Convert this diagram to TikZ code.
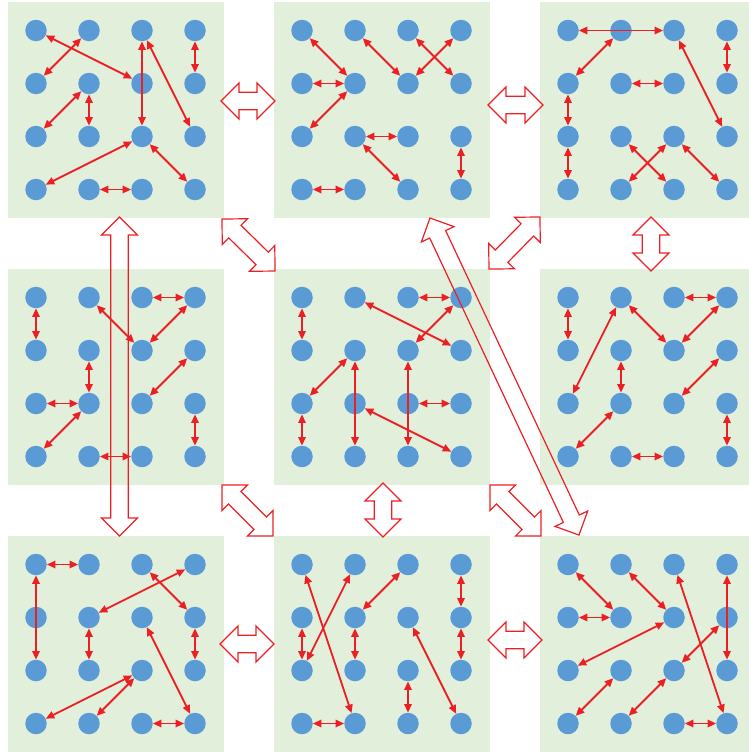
\documentclass[tikz,border=0pt]{standalone}
\usetikzlibrary{arrows.meta,calc}

\definecolor{panelgreen}{RGB}{226,239,218}
\definecolor{dotblue}{RGB}{91,155,213}
\definecolor{linkred}{RGB}{236,32,36}

% green square with a 4x4 grid of dots named <prefix><col><row>
\newcommand{\dotpanel}[3]{%
  \fill[panelgreen] (#2,#3) rectangle ++(216,216);
  \foreach \c in {1,...,4}
    \foreach \r in {1,...,4}
      \node[dot] (#1\c\r) at ({#2+28+53*(\c-1)},{#3+28.5+53*(\r-1)}) {};
}

% hollow two-way arrow between two coordinates
\newcommand{\twoway}[2]{%
  \draw[hollow] let \p1=(#1), \p2=(#2),
    \n1={atan2(\y2-\y1,\x2-\x1)}, \n2={veclen(\x2-\x1,\y2-\y1)-36} in
    (\p1) -- ++(\n1+45:25.5pt) -- ++(\n1-90:9.25pt) -- ++(\n1:\n2)
    -- ++(\n1+90:9.25pt) -- ++(\n1-45:25.5pt) -- ++(\n1-135:25.5pt)
    -- ++(\n1+90:9.25pt) -- ++(\n1+180:\n2) -- ++(\n1-90:9.25pt) -- cycle;
}

\begin{document}
\begin{tikzpicture}[
  x=1pt, y=-1pt,
  dot/.style={circle, fill=dotblue, minimum size=21.5pt, inner sep=0pt},
  link/.style={linkred, line width=1.8pt, {Triangle[length=8.5pt,width=7.5pt]}-{Triangle[length=8.5pt,width=7.5pt]}},
  hollow/.style={draw=linkred, line width=1.2pt, line join=miter}
]
\clip (0,0) rectangle (749,753);

% panels
\dotpanel{a}{8}{2}
\dotpanel{b}{274}{2}
\dotpanel{c}{540}{2}
\dotpanel{d}{8}{269}
\dotpanel{e}{274}{269}
\dotpanel{f}{540}{269}
\dotpanel{g}{8}{536}
\dotpanel{h}{274}{536}
\dotpanel{i}{540}{536}

% links inside the panels
\foreach \s/\t in {11/32, 21/12, 31/33, 31/43, 41/42, 22/13, 22/23, 33/14, 33/44, 24/34}
  \draw[link] (a\s) -- (a\t);
\foreach \s/\t in {11/22, 12/22, 22/13, 21/32, 31/42, 41/32, 23/33, 23/34, 43/44, 14/24}
  \draw[link] (b\s) -- (b\t);
\foreach \s/\t in {11/31, 21/12, 31/43, 41/42, 22/32, 12/13, 13/14, 23/34, 33/24, 33/44}
  \draw[link] (c\s) -- (c\t);
\foreach \s/\t in {11/12, 21/32, 31/41, 41/32, 42/33, 22/23, 13/23, 23/14, 43/44, 24/34}
  \draw[link] (d\s) -- (d\t);
\foreach \s/\t in {11/12, 31/41, 21/42, 41/32, 22/13, 22/24, 32/34, 33/43, 23/44, 13/14}
  \draw[link] (e\s) -- (e\t);
\foreach \s/\t in {11/12, 21/13, 21/32, 31/41, 41/32, 42/33, 22/23, 23/14, 43/44, 24/34}
  \draw[link] (f\s) -- (f\t);
\foreach \s/\t in {11/21, 11/13, 31/42, 41/22, 22/23, 32/44, 42/43, 33/14, 33/24, 34/44}
  \draw[link] (g\s) -- (g\t);
\foreach \s/\t in {11/24, 21/13, 31/22, 41/42, 42/43, 12/13, 22/23, 32/44, 33/34, 14/24}
  \draw[link] (h\s) -- (h\t);
\foreach \s/\t in {11/22, 12/22, 21/32, 32/13, 31/44, 41/43, 42/33, 33/24, 23/14, 34/44}
  \draw[link] (i\s) -- (i\t);

% moves between panels
\coordinate (ab-1) at (221,101);   \coordinate (ab-2) at (275,101);
\coordinate (bc-1) at (488,105);   \coordinate (bc-2) at (543,105);
\coordinate (ae-1) at (222,219);   \coordinate (ae-2) at (275,271);
\coordinate (ce-1) at (540,217);   \coordinate (ce-2) at (489,269);
\coordinate (cf-1) at (651,217);   \coordinate (cf-2) at (651,271);
\coordinate (ag-1) at (119.5,217); \coordinate (ag-2) at (119.5,536);
\coordinate (bi-1) at (430,218);   \coordinate (bi-2) at (579,535);
\coordinate (dh-1) at (222,485);   \coordinate (dh-2) at (273,536);
\coordinate (eh-1) at (383,483);   \coordinate (eh-2) at (383,537);
\coordinate (ei-1) at (490,485);   \coordinate (ei-2) at (541,536);
\coordinate (gh-1) at (220,644);   \coordinate (gh-2) at (274,644);
\coordinate (hi-1) at (488,640);   \coordinate (hi-2) at (542,640);

\twoway{ab-1}{ab-2}
\twoway{bc-1}{bc-2}
\twoway{ae-1}{ae-2}
\twoway{ce-1}{ce-2}
\twoway{cf-1}{cf-2}
\twoway{ag-1}{ag-2}
\twoway{bi-1}{bi-2}
\twoway{dh-1}{dh-2}
\twoway{eh-1}{eh-2}
\twoway{ei-1}{ei-2}
\twoway{gh-1}{gh-2}
\twoway{hi-1}{hi-2}
\end{tikzpicture}
\end{document}
